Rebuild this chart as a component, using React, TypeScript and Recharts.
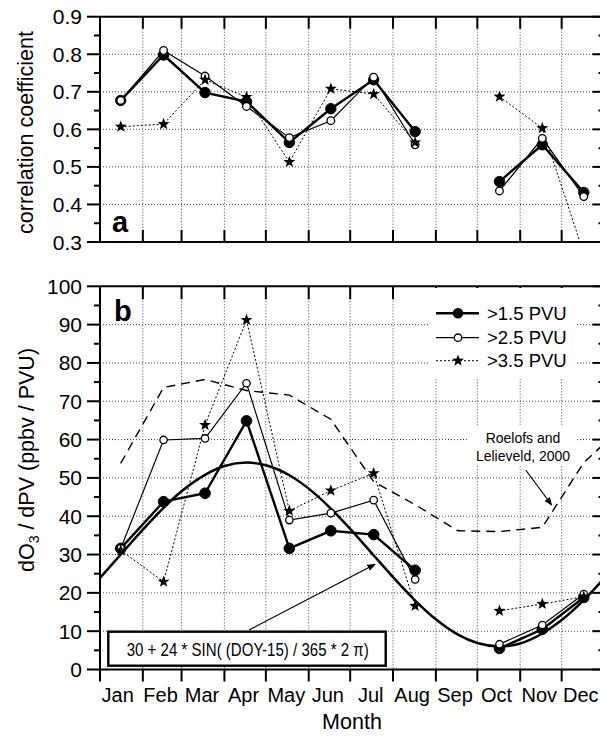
import React from "react";
import { LineChart, Line, XAxis, YAxis, CartesianGrid } from "recharts";

const MONTHS = ["Jan", "Feb", "Mar", "Apr", "May", "Jun", "Jul", "Aug", "Sep", "Oct", "Nov", "Dec"];
const MONTH_STARTS = [0, 31, 59, 90, 120, 151, 181, 212, 243, 273, 304, 334, 365];
const MID_DAYS = [15, 46, 76, 106, 137, 167, 198, 228, 259, 289, 320, 350];

// panel a: correlation coefficients
const CORR_15 = [0.677, 0.798, 0.698, 0.674, 0.565, 0.655, 0.732, 0.594, null, 0.461, 0.559, 0.432];
const CORR_25 = [0.677, 0.81, 0.742, 0.661, 0.578, 0.623, 0.739, 0.559, null, 0.436, 0.576, 0.421];
const CORR_35 = [0.607, 0.614, 0.732, 0.686, 0.513, 0.708, 0.694, 0.565, null, 0.687, 0.603, 0.27];
const CORR_TICKS = [0.3, 0.35, 0.4, 0.45, 0.5, 0.55, 0.6, 0.65, 0.7, 0.75, 0.8, 0.85, 0.9];
const CORR_GRID = [0.4, 0.5, 0.6, 0.7, 0.8];

// panel b: dO3/dPV slopes
const SLOPE_15 = [31.6, 43.8, 46.0, 64.9, 31.6, 36.2, 35.2, 25.9, null, 5.5, 10.5, 18.8];
const SLOPE_25 = [31.6, 59.9, 60.3, 74.7, 39.0, 40.8, 44.2, 23.5, null, 6.6, 11.6, 19.7];
const SLOPE_35 = [31.1, 22.9, 63.8, 91.2, 41.4, 46.7, 51.2, 16.6, null, 15.3, 17.1, 19.0];
const SLOPE_TICKS = [0, 5, 10, 15, 20, 25, 30, 35, 40, 45, 50, 55, 60, 65, 70, 75, 80, 85, 90, 95, 100];
const SLOPE_GRID = [10, 20, 30, 40, 50, 60, 70, 80, 90];

// Roelofs and Lelieveld, 2000 (dashed)
const ROELOFS_DAYS = [15, 46, 76, 106, 137, 167, 198, 228, 259, 289, 320, 350, 365];
const ROELOFS_VALS = [53.8, 73.6, 75.7, 72.8, 71.6, 65.3, 49.0, 43.0, 36.2, 36.0, 37.1, 54.0, 59.0];

// fitted sine curve
const SINE_DAYS = [0, 15, 31, 46, 59, 76, 90, 106, 120, 137, 151, 167, 181, 198, 212, 228, 243, 259, 273, 289, 304, 320, 334, 350, 365];
const SINE_VALS = [23.9, 30.0, 36.5, 42.2, 46.5, 50.8, 53.1, 54.0, 53.3, 50.7, 47.2, 42.0, 36.7, 29.8, 24.1, 18.0, 13.1, 9.1, 6.9, 6.0, 6.8, 9.4, 12.9, 18.1, 23.9];

const FONT = '"Liberation Sans", Arial, Helvetica, sans-serif';
const GRID_STROKE = "#444";

const rowsA = MID_DAYS.map((day, i) => ({ day, p15: CORR_15[i], p25: CORR_25[i], p35: CORR_35[i] }));
const rowsB = MID_DAYS.map((day, i) => ({ day, p15: SLOPE_15[i], p25: SLOPE_25[i], p35: SLOPE_35[i] }));
const roelofsRows = ROELOFS_DAYS.map((day, i) => ({ day, v: ROELOFS_VALS[i] }));
const sineRows = SINE_DAYS.map((day, i) => ({ day, v: SINE_VALS[i] }));
const BOTTOM_TICKS = [...MONTH_STARTS, ...MID_DAYS].sort((a, b) => a - b);

function starPath(cx: number, cy: number, R: number, r: number) {
  let d = "";
  for (let i = 0; i < 10; i++) {
    const rad = i % 2 === 0 ? R : r;
    const a = -Math.PI / 2 + (i * Math.PI) / 5;
    d += (i === 0 ? "M" : "L") + (cx + rad * Math.cos(a)).toFixed(2) + "," + (cy + rad * Math.sin(a)).toFixed(2);
  }
  return d + "Z";
}

const StarDot = (p: any) => {
  if (p.cx == null || p.cy == null || p.value == null) return <g key={`s${p.index}`} />;
  return <path key={`s${p.index}`} d={starPath(p.cx, p.cy, 6.3, 2.6)} fill="#000" />;
};

const isMajor = (v: number, step: number) => Math.abs(v / step - Math.round(v / step)) < 1e-6;

const leftTick = (step: number, digits: number) => (p: any) => {
  const { x, y, payload } = p;
  const v = payload.value;
  const major = isMajor(v, step);
  return (
    <g>
      <line x1={x - (major ? 13 : 6)} x2={x} y1={y} y2={y} stroke="#000" strokeWidth={2} />
      {major && (
        <text x={x - 18} y={y + 7.5} textAnchor="end" fontSize={21} fontFamily={FONT} fill="#000">
          {v.toFixed(digits)}
        </text>
      )}
    </g>
  );
};

const rightTick = (step: number) => (p: any) => {
  const { x, y, payload } = p;
  const major = isMajor(payload.value, step);
  return <line x1={x - (major ? 12 : 6)} x2={x} y1={y} y2={y} stroke="#000" strokeWidth={2} />;
};

const vTick = (len: number) => (p: any) => {
  const { x, y } = p;
  return <line x1={x} x2={x} y1={y} y2={y + len} stroke="#000" strokeWidth={2} />;
};

// bottom axis of panel b: tick marks at month starts, month names at mid-month
const monthTick = (p: any) => {
  const { x, y, payload } = p;
  const mi = MID_DAYS.indexOf(payload.value);
  if (mi >= 0) {
    return (
      <text x={x - 3} y={y + 32.5} textAnchor="middle" fontSize={20} fontFamily={FONT} fill="#000">
        {MONTHS[mi]}
      </text>
    );
  }
  return <line x1={x} x2={x} y1={y} y2={y + 12} stroke="#000" strokeWidth={2} />;
};

const AXIS_LINE = { stroke: "#000", strokeWidth: 2 };
const NO_SIZE = { tickSize: 0, tickMargin: 0, tickLine: false, interval: 0 as const };

export default function App() {
  const common = { isAnimationActive: false, activeDot: false, connectNulls: false, type: "linear" as const };
  return (
    <div style={{ position: "absolute", left: 0, top: 0, width: 600, height: 736, overflow: "hidden", background: "#fff", fontFamily: FONT }}>
      <div style={{ position: "absolute", left: 0, top: 0 }}>
        <LineChart width={610} height={256} data={rowsA} margin={{ top: 15.7, right: 4.5, bottom: 13, left: 0 }}>
          <CartesianGrid horizontalValues={CORR_GRID} verticalValues={MONTH_STARTS.slice(1, 12)} stroke={GRID_STROKE} strokeDasharray="1 2" />
          <XAxis {...NO_SIZE} dataKey="day" type="number" domain={[0, 365]} ticks={MONTH_STARTS} height={1} axisLine={AXIS_LINE} tick={vTick(-12)} />
          <XAxis {...NO_SIZE} xAxisId="top" orientation="top" dataKey="day" type="number" domain={[0, 365]} ticks={MONTH_STARTS} height={1} axisLine={AXIS_LINE} tick={vTick(12)} />
          <YAxis {...NO_SIZE} type="number" domain={[0.3, 0.9]} allowDataOverflow ticks={CORR_TICKS} width={100} axisLine={AXIS_LINE} tick={leftTick(0.1, 1)} />
          <YAxis {...NO_SIZE} yAxisId="right" orientation="right" type="number" domain={[0.3, 0.9]} allowDataOverflow ticks={CORR_TICKS} width={1} axisLine={AXIS_LINE} tick={rightTick(0.1)} />
          <Line {...common} dataKey="p15" stroke="#000" strokeWidth={2.4} dot={{ r: 5.2, fill: "#000", stroke: "#000", strokeWidth: 1 }} />
          <Line {...common} dataKey="p25" stroke="#000" strokeWidth={1.2} dot={{ r: 3.8, fill: "#fff", stroke: "#000", strokeWidth: 1.3 }} />
          <Line {...common} dataKey="p35" stroke="#000" strokeWidth={1} strokeDasharray="2 2" dot={StarDot} />
        </LineChart>
      </div>
      <div style={{ position: "absolute", left: 0, top: 250 }}>
        <LineChart width={610} height={486} data={rowsB} margin={{ top: 35.3, right: 4.5, bottom: 65.5, left: 0 }}>
          <CartesianGrid horizontalValues={SLOPE_GRID} verticalValues={MONTH_STARTS.slice(1, 12)} stroke={GRID_STROKE} strokeDasharray="1 2" />
          <XAxis {...NO_SIZE} dataKey="day" type="number" domain={[0, 365]} ticks={BOTTOM_TICKS} height={1} axisLine={AXIS_LINE} tick={monthTick} />
          <XAxis {...NO_SIZE} xAxisId="top" orientation="top" dataKey="day" type="number" domain={[0, 365]} ticks={MONTH_STARTS} height={1} axisLine={AXIS_LINE} tick={vTick(13)} />
          <YAxis {...NO_SIZE} type="number" domain={[0, 100]} allowDataOverflow ticks={SLOPE_TICKS} width={100} axisLine={AXIS_LINE} tick={leftTick(10, 0)} />
          <YAxis {...NO_SIZE} yAxisId="right" orientation="right" type="number" domain={[0, 100]} allowDataOverflow ticks={SLOPE_TICKS} width={1} axisLine={AXIS_LINE} tick={rightTick(10)} />
          <Line {...common} data={roelofsRows} dataKey="v" stroke="#000" strokeWidth={1.4} strokeDasharray="9 6" dot={false} />
          <Line {...common} type="monotone" data={sineRows} dataKey="v" stroke="#000" strokeWidth={2.5} dot={false} />
          <Line {...common} dataKey="p15" stroke="#000" strokeWidth={2.4} dot={{ r: 5.3, fill: "#000", stroke: "#000", strokeWidth: 1 }} />
          <Line {...common} dataKey="p25" stroke="#000" strokeWidth={1.2} dot={{ r: 3.7, fill: "#fff", stroke: "#000", strokeWidth: 1.3 }} />
          <Line {...common} dataKey="p35" stroke="#000" strokeWidth={1} strokeDasharray="2 2" dot={StarDot} />
        </LineChart>
      </div>
      <svg width={600} height={736} style={{ position: "absolute", left: 0, top: 0, pointerEvents: "none" }} fontFamily={FONT}>
        <defs>
          <marker id="ah" viewBox="0 0 10 10" refX="9" refY="5" markerWidth="7" markerHeight="7" orient="auto">
            <path d="M0,1 L10,5 L0,9 Z" fill="#000" />
          </marker>
        </defs>
        <text transform="translate(33,132.5) rotate(-90)" textAnchor="middle" fontSize={21.5} fill="#000">
          correlation coefficient
        </text>
        <text transform="translate(34,460) rotate(-90)" textAnchor="middle" fontSize={21.5} fill="#000">
          dO<tspan fontSize={14} dy={5}>3</tspan>
          <tspan dy={-5}> / dPV (ppbv / PVU)</tspan>
        </text>
        <text x={112} y={232} fontSize={29} fontWeight="bold" fill="#000">a</text>
        <text x={114} y={320.5} fontSize={29} fontWeight="bold" fill="#000">b</text>

        <rect x={428} y={288} width={149} height={90} fill="#fff" />
        <line x1={436} x2={479} y1={313.3} y2={313.3} stroke="#000" strokeWidth={2.4} />
        <circle cx={458} cy={313.3} r={5.3} fill="#000" />
        <text x={487} y={320} fontSize={18.5} fill="#000">&gt;1.5 PVU</text>
        <line x1={436} x2={479} y1={337.7} y2={337.7} stroke="#000" strokeWidth={1.2} />
        <circle cx={458} cy={337.7} r={3.7} fill="#fff" stroke="#000" strokeWidth={1.3} />
        <text x={487} y={344} fontSize={18.5} fill="#000">&gt;2.5 PVU</text>
        <line x1={436} x2={479} y1={360.7} y2={360.7} stroke="#000" strokeWidth={1} strokeDasharray="2 2" />
        <path d={starPath(458, 360.7, 6.3, 2.6)} fill="#000" />
        <text x={487} y={367} fontSize={18.5} fill="#000">&gt;3.5 PVU</text>

        <rect x={467} y={425} width={110} height={41} fill="#fff" />
        <text x={523} y={443.3} fontSize={14} textAnchor="middle" fill="#000">Roelofs and</text>
        <text x={523} y={460.5} fontSize={14} textAnchor="middle" fill="#000">Lelieveld, 2000</text>
        <line x1={525.7} y1={470} x2={551.7} y2={505} stroke="#000" strokeWidth={1.2} markerEnd="url(#ah)" />

        <rect x={108.3} y={631.7} width={277.4} height={34} fill="#fff" stroke="#000" strokeWidth={2.4} />
        <text x={126.7} y={656} fontSize={19} textLength={242} lengthAdjust="spacingAndGlyphs" fill="#000">
          30 + 24 * SIN( (DOY-15) / 365 * 2 π)
        </text>
        <line x1={249} y1={630} x2={375} y2={564.3} stroke="#000" strokeWidth={1.2} markerEnd="url(#ah)" />

        <text x={352} y={729} fontSize={21.5} textAnchor="middle" fill="#000">Month</text>
      </svg>
    </div>
  );
}
